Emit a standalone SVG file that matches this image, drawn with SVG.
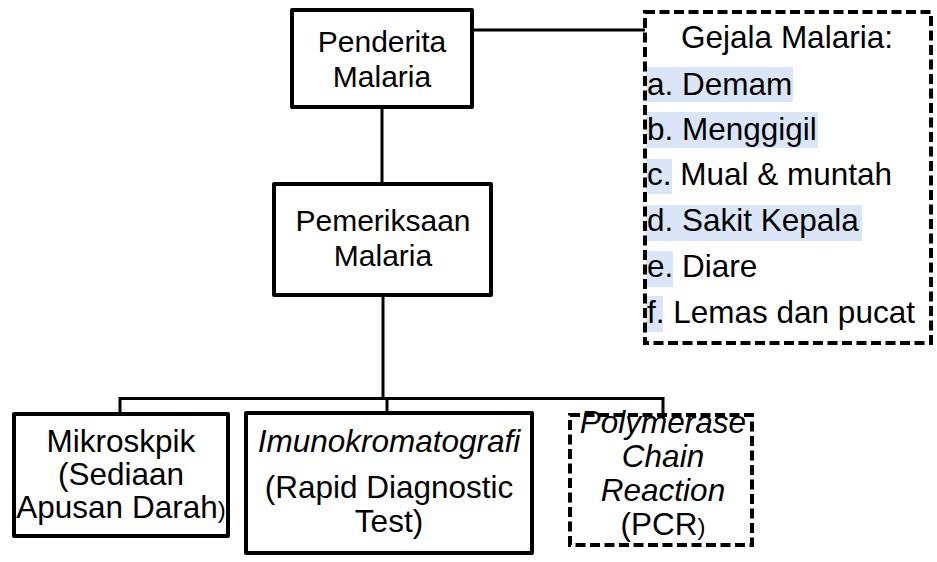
<svg xmlns="http://www.w3.org/2000/svg" width="937" height="562" viewBox="0 0 937 562">
<style>
text{font-family:"Liberation Sans",Arial,sans-serif;font-size:31.5px;fill:#000}
.c{text-anchor:middle}
.i{font-style:italic}
.t{font-size:30px}
.box{fill:#fff;stroke:#000;stroke-width:4;stroke-linejoin:round}
.dash{fill:none;stroke:#000;stroke-width:4;stroke-dasharray:10 4.5}
.hl{fill:#dbe5f8}
.ln{fill:none;stroke:#000;stroke-width:3}
</style>
<rect width="937" height="562" fill="#fff"/>
<g id="connectors">
<line class="ln" x1="472" y1="30" x2="645" y2="30"/>
<line class="ln" x1="382" y1="107" x2="382" y2="184"/>
<line class="ln" x1="383" y1="295" x2="383" y2="399"/>
<polyline class="ln" points="120,414 120,398.5 663,398.5 663,415" stroke-width="2.5"/>
<line class="ln" x1="387" y1="398" x2="387" y2="413" stroke-width="2.5"/>
</g>
<g id="penderita">
<rect class="box" x="292" y="10" width="180" height="97"/>
<text class="c t" x="382" y="52">Penderita</text>
<text class="c t" x="382" y="87">Malaria</text>
</g>
<g id="pemeriksaan">
<rect class="box" x="274" y="184" width="217" height="111"/>
<text class="c t" x="383" y="231">Pemeriksaan</text>
<text class="c t" x="383" y="266">Malaria</text>
</g>
<g id="gejala">
<rect x="645" y="12" width="286" height="331" fill="#fff"/>
<rect class="hl" x="646" y="67" width="147" height="35"/>
<rect class="hl" x="646" y="112" width="172" height="36"/>
<rect class="hl" x="646" y="159" width="26" height="35"/>
<rect class="hl" x="646" y="205" width="216" height="36"/>
<rect class="hl" x="646" y="251" width="27" height="36"/>
<rect class="hl" x="646" y="296" width="17" height="36"/>
<rect class="dash" x="645" y="12" width="286" height="331"/>
<text class="c" x="787" y="48">Gejala Malaria:</text>
<text x="647" y="95">a. Demam</text>
<text x="647" y="140">b. Menggigil</text>
<text x="647" y="185">c. Mual &amp; muntah</text>
<text x="647" y="231">d. Sakit Kepala</text>
<text x="647" y="277">e. Diare</text>
<text x="647" y="323">f. Lemas dan pucat</text>
</g>
<g id="mikroskopik">
<rect class="box" x="14" y="414" width="214" height="122"/>
<text class="c" x="121" y="452">Mikroskpik</text>
<text class="c" x="121" y="485">(Sediaan</text>
<text class="c" x="121" y="518">Apusan Darah<tspan font-size="24">)</tspan></text>
</g>
<g id="imunokromatografi">
<rect class="box" x="246" y="413" width="286" height="140"/>
<text class="c i" x="389" y="452">Imunokromatografi</text>
<text class="c" x="389" y="498">(Rapid Diagnostic</text>
<text class="c" x="389" y="532">Test)</text>
</g>
<g id="pcr">
<rect x="570" y="415" width="182" height="130" fill="#fff"/>
<rect class="dash" x="570" y="415" width="182" height="130"/>
<text class="c i" x="663" y="433">Polymerase</text>
<text class="c i" x="663" y="467">Chain</text>
<text class="c i" x="663" y="501">Reaction</text>
<text class="c" x="663" y="535">(PCR<tspan font-size="24">)</tspan></text>
</g>
</svg>
